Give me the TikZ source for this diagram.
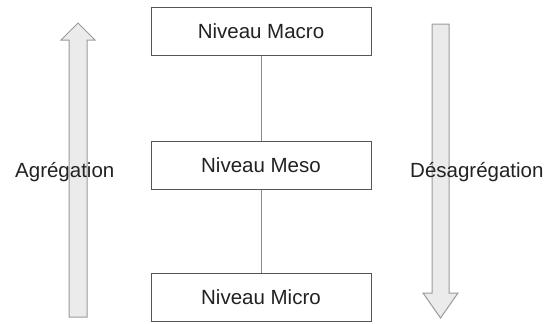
\documentclass[tikz,border=0pt]{standalone}
\usepackage{fontspec}
\setmainfont{Liberation Sans}
\usetikzlibrary{positioning}
\definecolor{boxline}{HTML}{555555}
\definecolor{arrfill}{HTML}{EBEBEB}
\definecolor{arrline}{HTML}{9A9A9A}
\definecolor{conn}{HTML}{8A8A8A}
\definecolor{txt}{HTML}{222222}
\tikzset{
  levelbox/.style={draw=boxline, line width=1pt, fill=white, minimum width=220pt, minimum height=48pt, inner sep=0pt, text=txt, font=\fontsize{20.5}{24}\selectfont},
  sidelabel/.style={text=txt, font=\fontsize{20.5}{24}\selectfont, inner sep=0pt},
  bigarrow/.style={draw=arrline, fill=arrfill, line width=1pt, line join=miter},
  connector/.style={draw=conn, line width=0.9pt}
}
\begin{document}
\begin{tikzpicture}[x=1pt,y=-1pt]
\useasboundingbox (0,0) rectangle (550,324);
% arrows
\draw[bigarrow] (69,317) -- (69,40) -- (61,40) -- (78,23) -- (95,40) -- (87,40) -- (87,317) -- cycle;
\draw[bigarrow] (432,24) -- (432,293) -- (423,293) -- (440.5,318) -- (458,293) -- (449,293) -- (449,24) -- cycle;
% boxes
\node[levelbox] (macro) at (261,31.5) {Niveau Macro};
\node[levelbox] (meso) at (261,165) {Niveau Meso};
\node[levelbox] (micro) at (261,297.5) {Niveau Micro};
\draw[connector] (macro) -- (meso);
\draw[connector] (meso) -- (micro);
% labels
\node[sidelabel, anchor=west] (agg) at (15,172) {Agrégation};
\node[sidelabel, anchor=west] (desagg) at (410,172) {Désagrégation};
\end{tikzpicture}
\end{document}
